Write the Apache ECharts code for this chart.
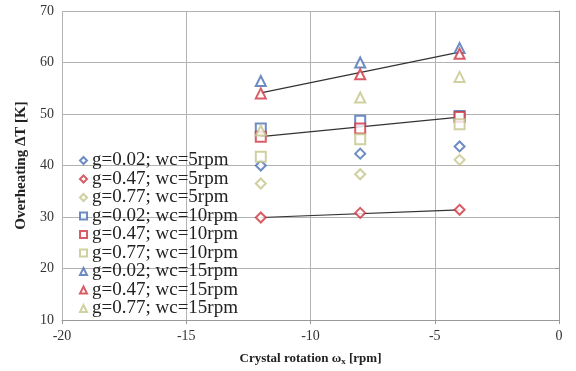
<!DOCTYPE html>
<html>
<head>
<meta charset="utf-8">
<script src="https://cdn.jsdelivr.net/npm/echarts@6/dist/echarts.min.js"></script>
<style>
  html, body { margin: 0; padding: 0; background: #fff; }
</style>
</head>
<body>
<div id="main" style="width: 576px;height:371px;"></div>
<script>
// crystal rotation values (x axis)
var rotation = [-12, -8, -4];

// overheating for each gamma / wc combination
var g002wc5 = [40.0, 42.3, 43.7];
var g047wc5 = [29.9, 30.8, 31.4];
var g077wc5 = [36.5, 38.3, 41.1];
var g002wc10 = [47.2, 48.7, 49.6];
var g047wc10 = [45.6, 47.2, 49.4];
var g077wc10 = [41.7, 45.1, 48.0];
var g002wc15 = [56.4, 60.0, 62.8];
var g047wc15 = [54.0, 57.7, 61.7];
var g077wc15 = [46.8, 53.2, 57.2];

// black trend lines through the g=0.47 points (end values)
var trendX = [-12, -4];
var trendWc5 = [29.9, 31.4];
var trendWc10 = [45.6, 49.4];
var trendWc15 = [54.1, 62.0];

var names = [
  "g=0.02; wc=5rpm", "g=0.47; wc=5rpm", "g=0.77; wc=5rpm",
  "g=0.02; wc=10rpm", "g=0.47; wc=10rpm", "g=0.77; wc=10rpm",
  "g=0.02; wc=15rpm", "g=0.47; wc=15rpm", "g=0.77; wc=15rpm"
];
var values = [g002wc5, g047wc5, g077wc5, g002wc10, g047wc10, g077wc10, g002wc15, g047wc15, g077wc15];
var colors = ["#4a6fb5", "#d0343f", "#c4c48a"];
var symbols = ["emptyDiamond", "emptyRect", "emptyTriangle"];

function pairs(xs, ys) {
  return xs.map(function (x, i) { return [x, ys[i]]; });
}

var series = [];
// trend lines first so the markers sit on top
[trendWc5, trendWc10, trendWc15].forEach(function (t) {
  series.push({
    type: "line",
    data: pairs(trendX, t),
    symbol: "none",
    silent: true,
    lineStyle: { color: "#333", width: 1.2 },
    z: 2
  });
});
names.forEach(function (n, i) {
  var c = colors[i % 3];
  var s = symbols[Math.floor(i / 3)];
  series.push({
    name: n,
    type: "scatter",
    data: pairs(rotation, values[i]),
    symbol: s,
    symbolSize: 10,
    itemStyle: { color: c, borderColor: c, borderWidth: 1.2 },
    z: 3
  });
});

var serif = "Liberation Serif, Times New Roman, serif";

var myChart = echarts.init(document.getElementById("main"));
var option = {
  animation: false,
  backgroundColor: "#fff",
  grid: { left: 62, right: 17, top: 11, bottom: 51 },
  legend: {
    orient: "vertical",
    left: 79,
    top: 151,
    data: names.map(function (n, i) {
      return { name: n, icon: symbols[Math.floor(i / 3)] };
    }),
    itemWidth: 7,
    itemHeight: 7,
    itemGap: -0.5,
    padding: 0,
    selectedMode: false,
    itemStyle: { borderWidth: 1 },
    textStyle: { fontFamily: serif, fontSize: 19, color: "#222", lineHeight: 18.5, padding: [0, 0, 0, 0] }
  },
  xAxis: {
    type: "value",
    min: -20,
    max: 0,
    interval: 5,
    name: "Crystal rotation ω{sub|x} [rpm]",
    nameLocation: "middle",
    nameGap: 31,
    nameTextStyle: {
      fontFamily: serif, fontSize: 13, fontWeight: "bold", color: "#222",
      rich: { sub: { fontFamily: serif, fontSize: 9, fontWeight: "bold", verticalAlign: "bottom", padding: [6, 0, 0, 0] } }
    },
    axisLine: { show: true, lineStyle: { color: "#999" } },
    axisTick: { show: true, length: 4, lineStyle: { color: "#999" } },
    axisLabel: { fontFamily: serif, fontSize: 14, color: "#333", margin: 9 },
    splitLine: { show: true, lineStyle: { color: "#b3b3b3", width: 1 } }
  },
  yAxis: {
    type: "value",
    min: 10,
    max: 70,
    interval: 10,
    name: "Overheating ΔT [K]",
    nameLocation: "middle",
    nameGap: 28,
    nameTextStyle: { fontFamily: serif, fontSize: 15, fontWeight: "bold", color: "#222" },
    axisLine: { show: true, lineStyle: { color: "#999" } },
    axisTick: { show: true, length: 4, lineStyle: { color: "#999" } },
    axisLabel: { fontFamily: serif, fontSize: 14, color: "#333", margin: 8 },
    splitLine: { show: true, lineStyle: { color: "#b3b3b3", width: 1 } }
  },
  series: series
};
myChart.setOption(option);
</script>
</body>
</html>
